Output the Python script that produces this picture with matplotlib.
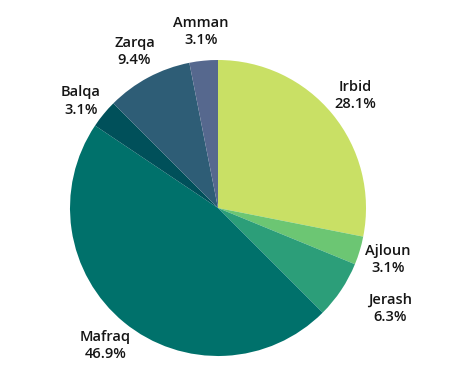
import numpy as np
import matplotlib.pyplot as plt

# Governorate shares (%)
regions = ['Irbid', 'Ajloun', 'Jerash', 'Mafraq', 'Balqa', 'Zarqa', 'Amman']
shares = [28.1, 3.1, 6.3, 46.9, 3.1, 9.4, 3.1]
colors = ['#c9e065', '#6cc673', '#2c9e79', '#00716b', '#00505a', '#2e5d76', '#56688e']

W, H = 455, 387
cx, cy, r = 218, 208, 148   # pie centre / radius in pixels

fig = plt.figure(figsize=(W / 100, H / 100), dpi=100)
ax = fig.add_axes([0, 0, 1, 1])

wedges, _ = ax.pie(shares, colors=colors, startangle=90, counterclock=False,
                   radius=1, wedgeprops=dict(linewidth=0))

ax.set_xlim(-cx / r, (W - cx) / r)
ax.set_ylim(-(H - cy) / r, cy / r)
ax.set_aspect('equal')
ax.axis('off')

# labels outside each wedge
for w, name, s in zip(wedges, regions, shares):
    ang = np.deg2rad((w.theta1 + w.theta2) / 2)
    d = 1.2
    x, y = d * np.cos(ang), d * np.sin(ang)
    if name == 'Jerash':
        x, y = 1.16, -0.68
    if name == 'Balqa':
        y -= 0.04
    ax.text(x, y, f'{name}\n{s:.1f}%', ha='center', va='center',
            fontsize=10.5, fontfamily='Open Sans', fontweight='semibold',
            color='#151515', linespacing=1.3)

fig.savefig('out.png', dpi=100)
